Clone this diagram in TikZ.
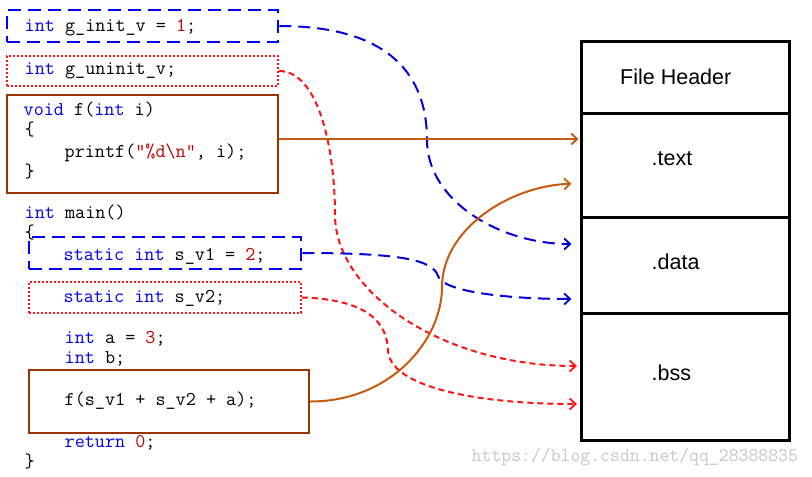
\documentclass[tikz,border=0pt]{standalone}
\usepackage{fontspec}
\newfontfamily\labfont{Liberation Sans}
\usetikzlibrary{arrows.meta}
\definecolor{kwblue}{RGB}{0,0,230}
\definecolor{numred}{RGB}{192,0,0}
\definecolor{boxbrown}{RGB}{153,51,0}
\definecolor{arrbrown}{RGB}{197,90,17}
\definecolor{dblue}{RGB}{0,0,220}
\definecolor{lred}{RGB}{255,20,20}
\newcommand\kw[1]{\textcolor{kwblue}{#1}}
\newcommand\nm[1]{\textcolor{numred}{#1}}
\tikzset{
  code/.style={anchor=base west, inner sep=0pt, font=\ttfamily\fontsize{19.6}{22}\selectfont},
  wmark/.style={anchor=base west, inner sep=0pt, text=black!22, font=\ttfamily\fontsize{19.2}{22}\selectfont},
  seclab/.style={anchor=base west, inner sep=0pt, font=\labfont\fontsize{21.5}{26}\selectfont},
  bluebox/.style={draw=blue, line width=2.6pt, dash pattern=on 13pt off 7pt, inner sep=0pt},
  redbox/.style={draw=lred, line width=2pt, dash pattern=on 2pt off 2pt, inner sep=0pt},
  brownbox/.style={draw=boxbrown, line width=2.2pt, inner sep=0pt},
  secbox/.style={draw=black, line width=3pt, minimum width=208pt, inner sep=0pt},
  tip/.style={-{Straight Barb[length=6pt,width=11pt,line width=1.8pt]}},
  bluearr/.style={tip, draw=dblue, line width=2pt, dash pattern=on 12pt off 7pt},
  redarr/.style={tip, draw=lred, line width=2pt, dash pattern=on 6pt off 4pt},
  brownarr/.style={tip, draw=arrbrown, line width=2pt},
}
\begin{document}
\begin{tikzpicture}[x=1pt,y=-1pt]
\useasboundingbox (0,0) rectangle (812,477);
\fill[white] (0,0) rectangle (812,477);

% code boxes
\node[bluebox, minimum width=271pt, minimum height=32pt] (b1) at (142.5,26) {};
\node[redbox, minimum width=271pt, minimum height=30pt] (b2) at (142.5,71) {};
\node[brownbox, minimum width=271pt, minimum height=98pt] (b3) at (142.5,144) {};
\node[bluebox, minimum width=272pt, minimum height=32pt] (b4) at (165,253) {};
\node[redbox, minimum width=272pt, minimum height=31pt] (b5) at (165,297.5) {};
\node[brownbox, minimum width=280pt, minimum height=63pt] (b6) at (169,401.5) {};

% code text
\node[code] (t1) at (24.5,31.5) {\kw{int} g\_init\_v = \nm{1};};
\node[code] (t2) at (24.5,74) {\kw{int} g\_uninit\_v;};
\node[code] (t3) at (23.5,115) {\kw{void} f(\kw{int} i)};
\node[code] (t4) at (24.5,135) {\{};
\node[code] (t5) at (64.5,157) {printf(\nm{"\%d\textbackslash n"}, i);};
\node[code] (t6) at (24.5,177) {\}};
\node[code] (t7) at (24.5,218) {\kw{int} main()};
\node[code] (t8) at (24.5,238) {\{};
\node[code] (t9) at (63.5,260) {\kw{static} \kw{int} s\_v1 = \nm{2};};
\node[code] (t10) at (63.5,302) {\kw{static} \kw{int} s\_v2;};
\node[code] (t11) at (64.5,343) {\kw{int} a = \nm{3};};
\node[code] (t12) at (64.5,363) {\kw{int} b;};
\node[code] (t13) at (64.5,405.5) {f(s\_v1 + s\_v2 + a);};
\node[code] (t14) at (64.5,447) {\kw{return} \nm{0};};
\node[code] (t15) at (24.5,467.5) {\}};

% sections
\node[secbox, minimum height=71.5pt] (hdr) at (685.5,77.25) {};
\node[secbox, minimum height=104.5pt] (txt) at (685.5,165.25) {};
\node[secbox, minimum height=96pt] (dat) at (685.5,265.5) {};
\node[secbox, minimum height=127pt] (bss) at (685.5,377) {};
\node[seclab] (lh) at (620,84.5) {File Header};
\node[seclab] (lt) at (651.5,165) {.text};
\node[seclab] (ld) at (651.5,269) {.data};
\node[seclab] (lb) at (651.5,380.5) {.bss};

% intermediate points
\coordinate (m1) at (427,140);
\coordinate (m2) at (335,215);
\coordinate (m4) at (438,276);
\coordinate (m5) at (388,350);
\coordinate (m6) at (442,287);

% connectors
\draw[bluearr] (b1.east) .. controls +(110,0) and +(0,-65) .. (m1)
  .. controls +(0,60) and +(-73,0) .. ([xshift=-8.5pt,yshift=21.5pt]dat.west);
\draw[redarr] (b2.east) .. controls +(40,0) and +(0,-65) .. (m2)
  .. controls +(0,75) and +(-138,0) .. ([xshift=-3pt,yshift=11pt]bss.west);
\draw[brownarr] ([yshift=5pt]b3.east) -- ([xshift=-1.5pt,yshift=26.25pt]txt.west);
\draw[bluearr] (b4.east) .. controls +(99,0) and +(-5,-16) .. (m4)
  .. controls +(5,16) and +(-63,0) .. ([xshift=-8.5pt,yshift=-33.5pt]dat.west);
\draw[redarr] (b5.east) .. controls +(69,2) and +(-1,-25) .. (m5)
  .. controls +(1,35) and +(-108,0) .. ([xshift=-3pt,yshift=-27pt]bss.west);
\draw[brownarr] (b6.east) .. controls +(81,0) and +(0,53) .. (m6)
  .. controls +(0,-57) and +(-63,2) .. ([xshift=-8.5pt,yshift=-18.5pt]txt.west);

% watermark
\node[wmark] (wm) at (471.5,461.5) {https://blog.csdn.net/qq\_28388835};
\end{tikzpicture}
\end{document}
